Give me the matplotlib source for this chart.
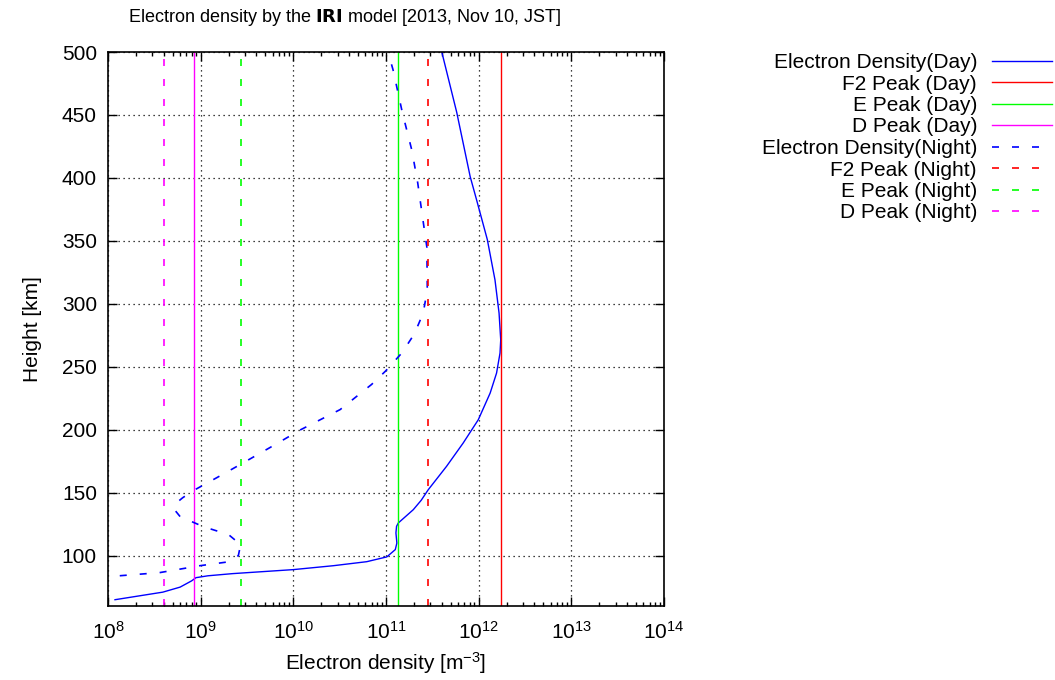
import matplotlib
matplotlib.use('Agg')
import matplotlib.pyplot as plt
import numpy as np

plt.rcParams['font.family'] = ['Liberation Sans', 'DejaVu Sans']
plt.rcParams['mathtext.default'] = 'regular'

# day profile (height km, density m^-3)
day_h = [65, 71, 75, 80, 82.5, 84, 85.7, 88.9, 92, 95.2, 99, 104.8, 110, 118,
         123.3, 126, 136.5, 144, 152.4, 170.9, 189.4, 207.9, 229.1, 245,
         260.9, 271.4, 292.6, 319, 351, 382.5, 401, 452, 500]
day_ne = [1.19e8, 3.9e8, 6.0e8, 8.0e8, 8.9e8, 1.2e9, 2.2e9, 1.0e10, 2.7e10,
          6.2e10, 1.02e11, 1.26e11, 1.31e11, 1.28e11, 1.30e11, 1.36e11,
          1.97e11, 2.4e11, 2.86e11, 4.5e11, 6.8e11, 9.9e11, 1.33e12, 1.56e12,
          1.70e12, 1.73e12, 1.66e12, 1.50e12, 1.24e12, 9.5e11, 8.1e11, 5.8e11,
          4.0e11]

# night profile
night_h = [80, 83.3, 86.5, 92, 95, 100, 108.7, 116.7, 123, 131, 137, 142, 146,
           152.4, 162, 172.2, 188, 200, 216, 236, 246.3, 260.9, 276, 292.6,
           311, 345, 367, 396, 422, 452, 486, 500]
night_ne = [5e7, 1.0e8, 3.6e8, 9.8e8, 1.96e9, 2.55e9, 2.7e9, 2.0e9, 1.07e9,
            6.0e8, 5.15e8, 5.5e8, 6.4e8, 8.7e8, 1.5e9, 2.65e9, 6.3e9, 1.2e10,
            3.2e10, 7.0e10, 9.8e10, 1.48e11, 2.02e11, 2.52e11, 2.79e11,
            2.76e11, 2.5e11, 2.2e11, 1.9e11, 1.5e11, 1.19e11, 1.05e11]

peak_names = ['F2', 'E', 'D']
peak_colors = ['#ff0000', '#00ff00', '#ff00ff']
day_peaks = [1.73e12, 1.346e11, 8.54e8]
night_peaks = [2.86e11, 2.72e9, 4.05e8]

fig = plt.figure(figsize=(10.55, 6.8), dpi=100)
ax = fig.add_axes([108/1055, 1-606/680, (664-108)/1055, (606-52)/680])

dash = (0, (4.2, 7.8))
ax.plot(day_ne, day_h, color='#0000ff', lw=1.0, label='Electron Density(Day)')
for n, c, v in zip(peak_names, peak_colors, day_peaks):
    ax.axvline(v, color=c, lw=1.0, label=f'{n} Peak (Day)')
ax.plot(night_ne, night_h, color='#0000ff', lw=1.2, linestyle=dash,
        label='Electron Density(Night)')
for n, c, v in zip(peak_names, peak_colors, night_peaks):
    ax.axvline(v, color=c, lw=1.2, linestyle=dash, label=f'{n} Peak (Night)')

ax.set_xscale('log')
ax.set_xlim(1e8, 1e14)
ax.set_ylim(60, 500)
ax.set_yticks(np.arange(100, 501, 50))
ax.grid(True, which='major', color='black', linestyle=(0, (1, 3)), lw=0.9)
ax.tick_params(which='both', direction='in', top=True, right=True,
               labelsize=15, width=1.0)
ax.tick_params(which='major', length=6.5, pad=8)
ax.tick_params(axis='x', which='major', pad=11)
ax.tick_params(which='minor', length=3.2)
ax.tick_params(axis='y', which='minor', left=False, right=False)
for s in ax.spines.values():
    s.set_linewidth(1.2)

ax.set_xlabel('Electron density [m$^{-3}$]', fontsize=15, labelpad=5)
ax.set_ylabel('Height [km]', fontsize=15, labelpad=14)
fig.text(344.5/1055, 1-18/680, 'Electron density by the $\\mathbf{IRI}$ model [2013, Nov 10, JST]',
         ha='center', va='center', fontsize=13)

h, l = ax.get_legend_handles_labels()
fig.legend(h, l, loc='upper right', bbox_to_anchor=(1052/1055, 1-53/680),
           frameon=False, markerfirst=False, alignment='right', fontsize=15,
           handlelength=2.9, handletextpad=0.7, labelspacing=0.12,
           borderpad=0, borderaxespad=0)

fig.savefig('out.png', dpi=100)
